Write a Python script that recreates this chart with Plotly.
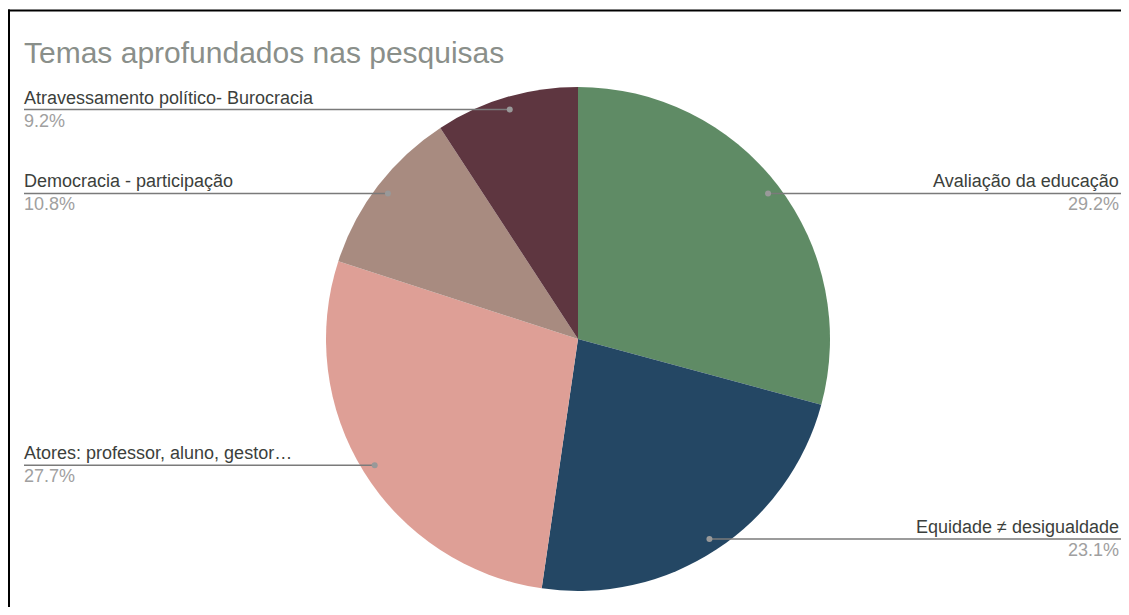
import math
import plotly.graph_objects as go

# ---- data ----
categories = [
    "Avaliação da educação",
    "Equidade ≠ desigualdade",
    "Atores: professor, aluno, gestor…",
    "Democracia - participação",
    "Atravessamento político- Burocracia",
]
values = [29.2, 23.1, 27.7, 10.8, 9.2]
colors = ["#5F8B65", "#244764", "#DE9F96", "#A88B80", "#5E3640"]
title_text = "Temas aprofundados nas pesquisas"

# ---- geometry (page pixels; page body has an 8px margin on every side) ----
W, H = 1129, 615
OFF = 8
FW, FH = W - 2 * OFF, H - 2 * OFF
cx, cy, R = 578, 339, 252
left_x = 24
right_x = OFF + FW
FONT = "Liberation Sans, Arial, sans-serif"


def px_x(p):
    return (p - OFF) / FW


def px_y(p):
    return 1 - (p - OFF) / FH


fig = go.Figure()
fig.add_trace(go.Pie(
    labels=categories, values=values, sort=False, direction="clockwise",
    rotation=0, marker=dict(colors=colors, line=dict(width=0)),
    textinfo="none", hoverinfo="label+percent", showlegend=False,
    domain=dict(x=[px_x(cx - R), px_x(cx + R)], y=[px_y(cy + R), px_y(cy - R)]),
))

shapes = []
annotations = []
total = sum(values)
cum = 0.0
for lab, v in zip(categories, values):
    mid = (cum + v / 2) / total * 2 * math.pi
    cum += v
    px = cx + 0.95 * R * math.sin(mid)
    py = cy - 0.95 * R * math.cos(mid)
    pct = f"{v / total * 100:.1f}%"
    if px >= cx:
        x0, x1, tx, anchor = px, right_x + 5, right_x, "right"
    else:
        x0, x1, tx, anchor = left_x, px, left_x - 2, "left"
    shapes.append(dict(type="line", xref="paper", yref="paper", x0=px_x(x0), x1=px_x(x1),
                       y0=px_y(py), y1=px_y(py), line=dict(color="#7a7a7a", width=1.5)))
    shapes.append(dict(type="circle", xref="paper", yref="paper", x0=px_x(px - 3), x1=px_x(px + 3),
                       y0=px_y(py + 3), y1=px_y(py - 3), fillcolor="#999999", line=dict(width=0)))
    annotations.append(dict(x=px_x(tx), y=px_y(py - 12), xref="paper", yref="paper", text=lab,
                            showarrow=False, xanchor=anchor, yanchor="middle",
                            font=dict(family=FONT, size=18, color="#3c3f3c")))
    annotations.append(dict(x=px_x(tx), y=px_y(py + 11), xref="paper", yref="paper", text=pct,
                            showarrow=False, xanchor=anchor, yanchor="middle",
                            font=dict(family=FONT, size=18, color="#a0a0a0")))

annotations.append(dict(x=px_x(22), y=px_y(52), xref="paper", yref="paper", text=title_text,
                        showarrow=False, xanchor="left", yanchor="middle",
                        font=dict(family=FONT, size=30, color="#8a8f8a")))

# container border (top and left edges)
shapes.append(dict(type="line", xref="paper", yref="paper", x0=px_x(8), x1=px_x(W + 20),
                   y0=px_y(10.5), y1=px_y(10.5), line=dict(color="#000000", width=2)))
shapes.append(dict(type="line", xref="paper", yref="paper", x0=px_x(9), x1=px_x(9),
                   y0=px_y(9.5), y1=px_y(H + 20), line=dict(color="#000000", width=2)))

fig.update_layout(
    width=FW, height=FH, margin=dict(l=0, r=0, t=0, b=0),
    paper_bgcolor="white", plot_bgcolor="rgba(0,0,0,0)",
    xaxis=dict(visible=False, fixedrange=True),
    yaxis=dict(visible=False, fixedrange=True),
    shapes=shapes, annotations=annotations,
)

fig.write_html("out.html")
